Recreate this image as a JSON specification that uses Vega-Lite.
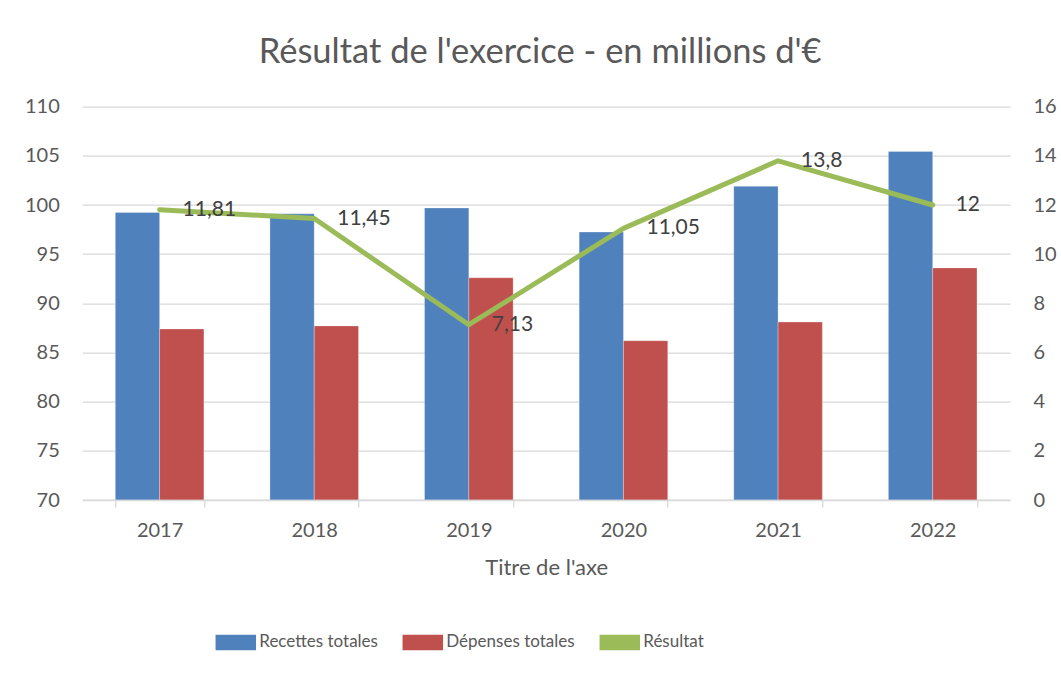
{
  "$schema": "https://vega.github.io/schema/vega-lite/v6.json",
  "autosize": {"type": "none"},
  "width": 927.7,
  "height": 393.3,
  "padding": {"left": 82.3, "top": 106.7, "right": 51, "bottom": 175},
  "background": "white",
  "title": {
    "text": "Résultat de l'exercice - en millions d'€",
    "font": "Lato", "fontSize": 34.5, "fontWeight": "normal", "color": "#595959",
    "anchor": "middle", "dx": -6, "offset": 26
  },
  "config": {
    "view": {"stroke": null},
    "locale": {"number": {"decimal": ",", "thousands": "\u00a0", "grouping": [3], "currency": ["", "\u00a0€"]}},
    "axis": {"labelFont": "Lato", "labelFontSize": 20, "labelColor": "#595959", "titleFont": "Lato", "titleColor": "#595959", "titleFontWeight": "normal"}
  },
  "datasets": {
    "bars": [
      {"annee": "2017", "serie": "Recettes totales", "valeur": 99.25},
      {"annee": "2017", "serie": "Dépenses totales", "valeur": 87.4},
      {"annee": "2018", "serie": "Recettes totales", "valeur": 99.1},
      {"annee": "2018", "serie": "Dépenses totales", "valeur": 87.7},
      {"annee": "2019", "serie": "Recettes totales", "valeur": 99.7},
      {"annee": "2019", "serie": "Dépenses totales", "valeur": 92.6},
      {"annee": "2020", "serie": "Recettes totales", "valeur": 97.25},
      {"annee": "2020", "serie": "Dépenses totales", "valeur": 86.2},
      {"annee": "2021", "serie": "Recettes totales", "valeur": 101.9},
      {"annee": "2021", "serie": "Dépenses totales", "valeur": 88.1},
      {"annee": "2022", "serie": "Recettes totales", "valeur": 105.45},
      {"annee": "2022", "serie": "Dépenses totales", "valeur": 93.6}
    ],
    "resultat": [
      {"annee": "2017", "resultat": 11.81},
      {"annee": "2018", "resultat": 11.45},
      {"annee": "2019", "resultat": 7.13},
      {"annee": "2020", "resultat": 11.05},
      {"annee": "2021", "resultat": 13.8},
      {"annee": "2022", "resultat": 12}
    ]
  },
  "encoding": {
    "x": {
      "field": "annee", "type": "ordinal", "sort": null,
      "scale": {"paddingInner": 0.427, "paddingOuter": 0.2135},
      "axis": {
        "title": "Titre de l'axe", "titleFontSize": 22, "titlePadding": 17,
        "labelAngle": 0, "labelPadding": 13, "tickBand": "extent", "tickSize": 7,
        "tickColor": "#D9D9D9", "domainColor": "#D9D9D9", "domainWidth": 1.3, "tickWidth": 1.3, "grid": false, "zindex": 1
      }
    }
  },
  "layer": [
    {
      "data": {"name": "bars"},
      "mark": {"type": "bar", "stroke": "white", "strokeOpacity": 0.35, "strokeWidth": 0.8},
      "encoding": {
        "xOffset": {"field": "serie", "type": "nominal", "sort": ["Recettes totales", "Dépenses totales"], "scale": {"paddingInner": 0, "paddingOuter": 0}},
        "y": {
          "field": "valeur", "type": "quantitative",
          "scale": {"domain": [70, 110], "zero": false, "nice": false},
          "axis": {"title": null, "values": [70, 75, 80, 85, 90, 95, 100, 105, 110], "grid": true, "gridColor": "#D9D9D9", "gridWidth": 1.3, "domain": false, "ticks": false, "labelPadding": 23}
        },
        "y2": {"datum": 70},
        "color": {
          "field": "serie", "type": "nominal",
          "scale": {"domain": ["Recettes totales", "Dépenses totales", "Résultat"], "range": ["#4F81BD", "#C0504D", "#9BBB59"]},
          "legend": {
            "orient": "none", "legendX": 133, "legendY": 515, "direction": "horizontal", "columns": 3, "title": null,
            "symbolSize": 1521, "symbolType": "M-1,-0.36H1V0.36H-1Z",
            "labelFont": "Lato", "labelFontSize": 17, "labelColor": "#595959", "labelOffset": 3, "columnPadding": 22,
            "encode": {"symbols": {"update": {
              "shape": {"signal": "datum.value === 'Résultat' ? 'stroke' : 'M-1,-0.36H1V0.36H-1Z'"},
              "strokeWidth": {"signal": "datum.value === 'Résultat' ? 5 : 0"},
              "stroke": {"signal": "datum.value === 'Résultat' ? '#9BBB59' : 'transparent'"},
              "fill": {"signal": "datum.value === 'Résultat' ? 'transparent' : (datum.value === 'Recettes totales' ? '#4F81BD' : '#C0504D')"},
              "strokeCap": {"value": "round"},
              "opacity": {"value": 1}, "fillOpacity": {"value": 1}, "strokeOpacity": {"value": 1}
            }}}
          }
        }
      }
    },
    {
      "data": {"name": "resultat"},
      "encoding": {
        "y": {
          "field": "resultat", "type": "quantitative",
          "scale": {"domain": [0, 16], "nice": false},
          "axis": {"title": null, "orient": "right", "values": [0, 2, 4, 6, 8, 10, 12, 14, 16], "grid": false, "domain": false, "ticks": false, "labelPadding": 23}
        }
      },
      "layer": [
        {
          "mark": {"type": "line", "strokeWidth": 5, "strokeCap": "round", "strokeJoin": "round"},
          "encoding": {"color": {"datum": "Résultat"}}
        },
        {
          "mark": {"type": "text", "align": "left", "baseline": "middle", "dx": 23, "font": "Lato", "fontSize": 21, "color": "#404040"},
          "encoding": {"text": {"field": "resultat", "type": "quantitative", "format": "~g"}}
        }
      ]
    }
  ],
  "resolve": {"scale": {"y": "independent"}, "axis": {"y": "independent"}}
}
